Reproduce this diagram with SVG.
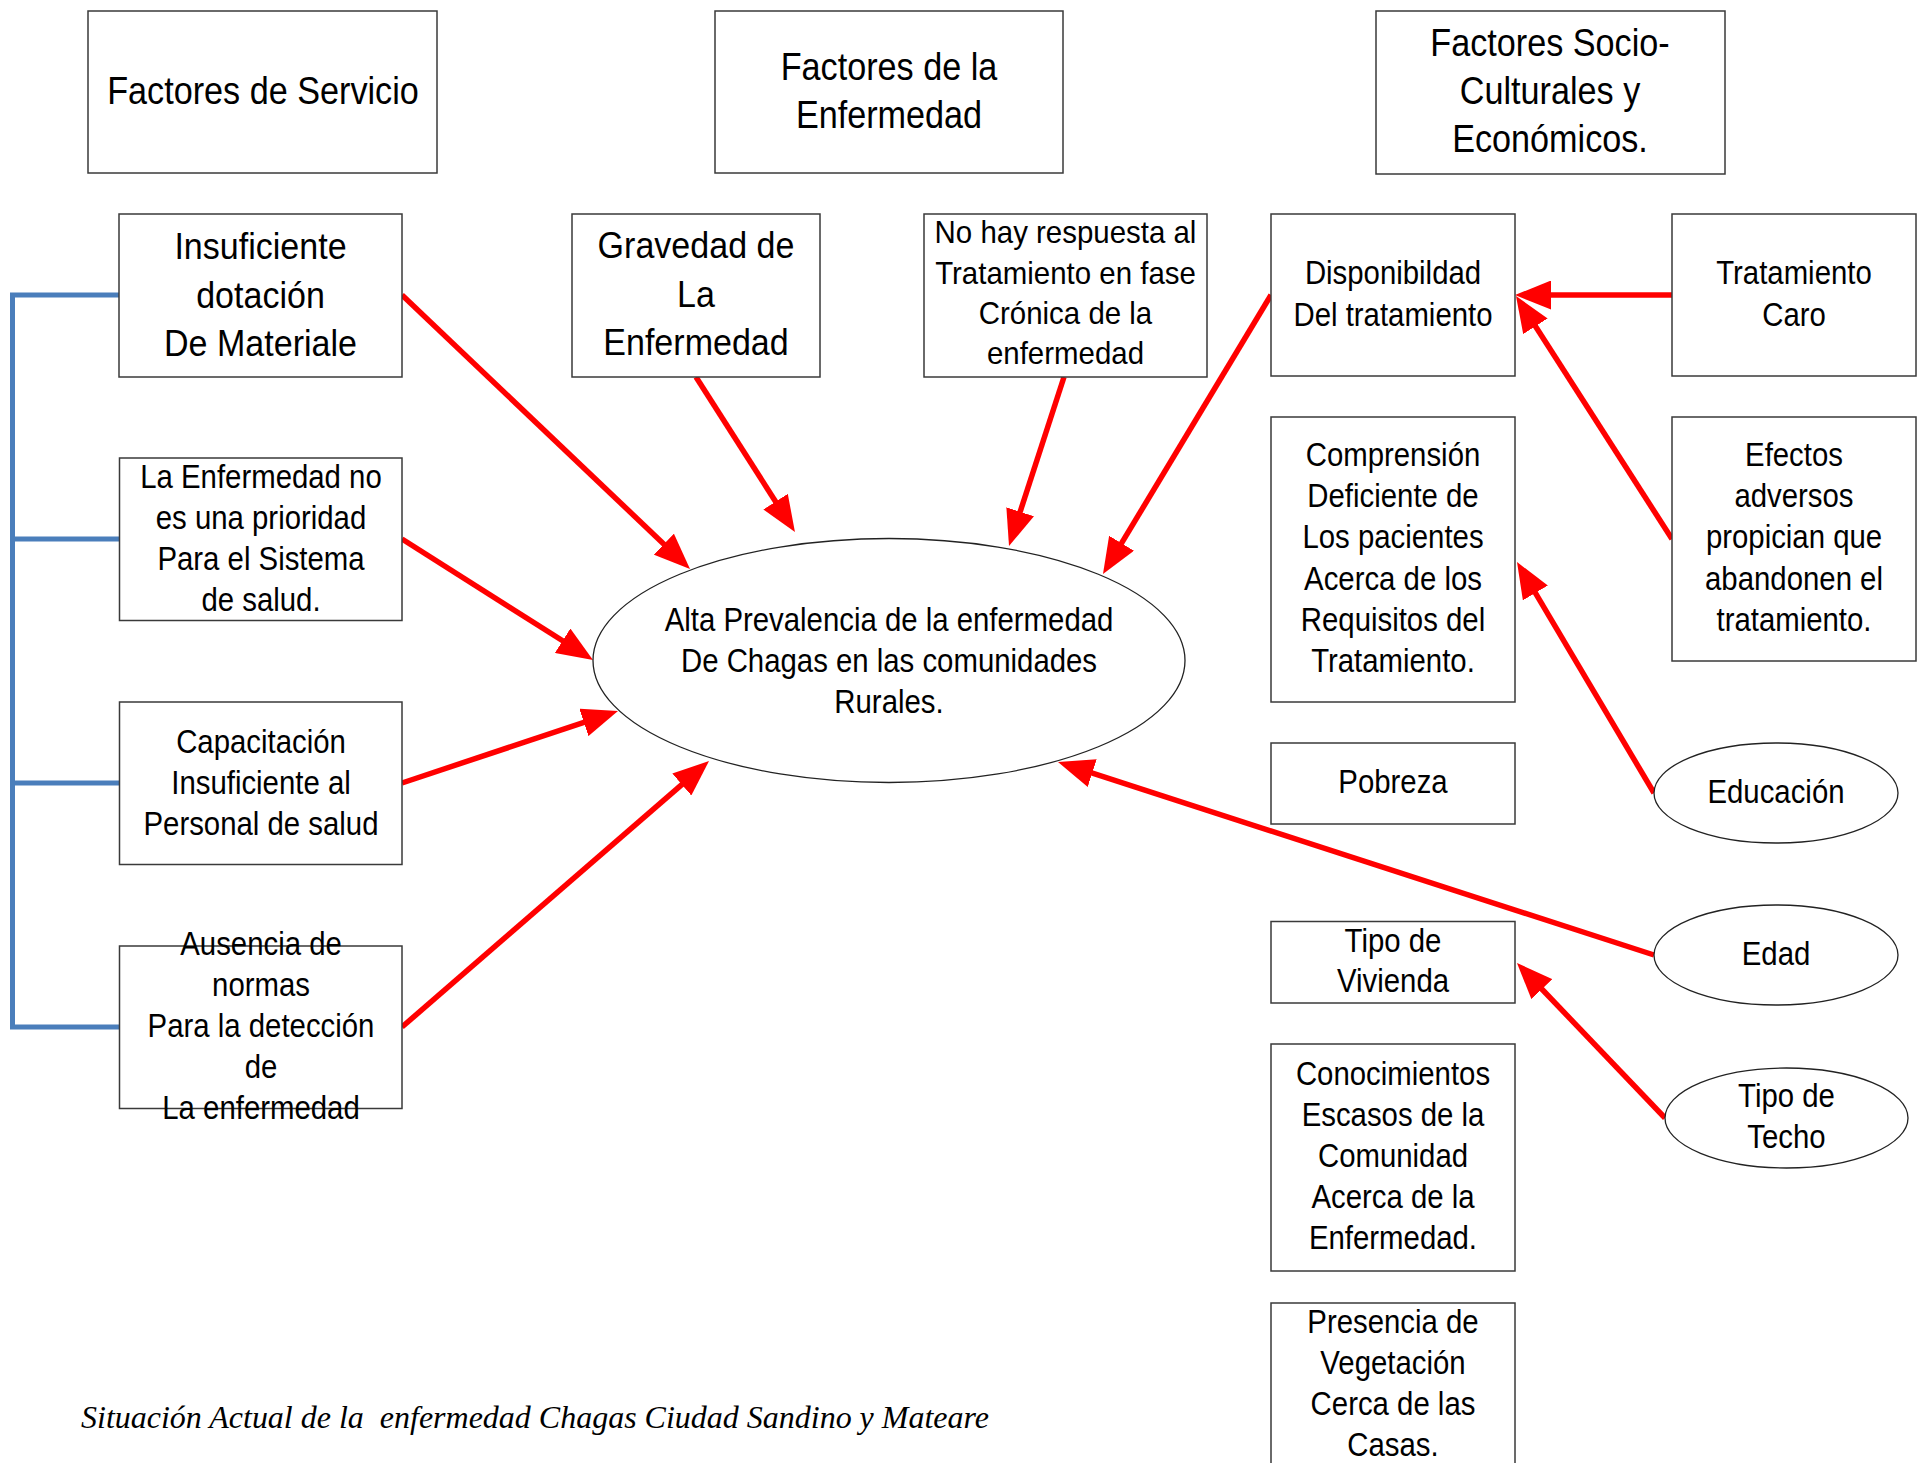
<svg xmlns="http://www.w3.org/2000/svg" width="1924" height="1463" viewBox="0 0 1924 1463">
<style>
.box{fill:#fff;stroke:#3a3a3a;stroke-width:1.5}
.ell{fill:#fff;stroke:#222;stroke-width:1.3}
.t{font-family:"Liberation Sans",Arial,sans-serif;fill:#000;text-anchor:middle}
.big{font-size:38px}
.mid{font-size:37px}
.sm{font-size:33px}
.xs{font-size:31px}
.red{stroke:#ff0000;stroke-width:5.5;fill:none;marker-end:url(#ah)}
.blue{stroke:#4a7ebb;stroke-width:5;fill:none}
.foot{font-family:"Liberation Serif","Times New Roman",serif;font-style:italic;font-size:32px;fill:#000}
</style>
<defs>
<marker id="ah" markerUnits="userSpaceOnUse" markerWidth="36" markerHeight="29" refX="16" refY="14.5" orient="auto">
<path d="M0,0 L36,14.5 L0,29 Z" fill="#ff0000"/>
</marker>
</defs>
<rect width="1924" height="1463" fill="#fff"/>

<g id="connectors">
<path class="blue" d="M119,295 H12.5 V1027 H119 M12.5,539 H119 M12.5,783 H119"/>
<line class="red" x1="402" y1="295" x2="675.5" y2="555.2"/>
<line class="red" x1="402" y1="539" x2="576.1" y2="649.3"/>
<line class="red" x1="402" y1="783" x2="599.0" y2="717.3"/>
<line class="red" x1="402" y1="1027" x2="693.9" y2="774.1"/>
<line class="red" x1="696" y1="377" x2="784.2" y2="515.1"/>
<line class="red" x1="1064" y1="377" x2="1015.2" y2="527.0"/>
<line class="red" x1="1271" y1="295" x2="1113.3" y2="556.9"/>
<line class="red" x1="1672" y1="295" x2="1535" y2="295"/>
<line class="red" x1="1672" y1="539" x2="1526.8" y2="312.8"/>
<line class="red" x1="1654" y1="793" x2="1527.2" y2="579.2"/>
<line class="red" x1="1654" y1="955" x2="1077.0" y2="768.2"/>
<line class="red" x1="1665" y1="1118" x2="1530.8" y2="977.5"/>
</g>

<g id="h1">
<rect class="box" x="88" y="11" width="349" height="162"/>
<g transform="translate(263 0) scale(0.9 1)"><text class="t big" x="0" y="104">Factores de Servicio</text></g>
</g>
<g id="h2">
<rect class="box" x="715" y="11" width="348" height="162"/>
<g transform="translate(889 0) scale(0.9 1)"><text class="t big" x="0" y="80">Factores de la</text><text class="t big" x="0" y="128">Enfermedad</text></g>
</g>
<g id="h3">
<rect class="box" x="1376" y="11" width="349" height="163"/>
<g transform="translate(1550 0) scale(0.9 1)"><text class="t big" x="0" y="56">Factores Socio-</text><text class="t big" x="0" y="104">Culturales y</text><text class="t big" x="0" y="152">Económicos.</text></g>
</g>

<g id="n-insuficiente">
<rect class="box" x="119" y="214" width="283" height="163"/>
<g transform="translate(260.5 0) scale(0.92 1)"><text class="t mid" x="0" y="259">Insuficiente</text><text class="t mid" x="0" y="308">dotación</text><text class="t mid" x="0" y="356">De Materiale</text></g>
</g>
<g id="n-gravedad">
<rect class="box" x="572" y="214" width="248" height="163"/>
<g transform="translate(696 0) scale(0.92 1)"><text class="t mid" x="0" y="258">Gravedad de</text><text class="t mid" x="0" y="307">La</text><text class="t mid" x="0" y="355">Enfermedad</text></g>
</g>
<g id="n-nohay">
<rect class="box" x="924" y="214" width="283" height="163"/>
<g transform="translate(1065.5 0) scale(0.95 1)"><text class="t xs" x="0" y="243">No hay respuesta al</text><text class="t xs" x="0" y="284">Tratamiento en fase</text><text class="t xs" x="0" y="324">Crónica de la</text><text class="t xs" x="0" y="364">enfermedad</text></g>
</g>
<g id="n-disponibilidad">
<rect class="box" x="1271" y="214" width="244" height="162"/>
<g transform="translate(1393 0) scale(0.89 1)"><text class="t sm" x="0" y="284">Disponibildad</text><text class="t sm" x="0" y="326">Del tratamiento</text></g>
</g>
<g id="n-caro">
<rect class="box" x="1672" y="214" width="244" height="162"/>
<g transform="translate(1794 0) scale(0.89 1)"><text class="t sm" x="0" y="284">Tratamiento</text><text class="t sm" x="0" y="326">Caro</text></g>
</g>
<g id="n-comprension">
<rect class="box" x="1271" y="417" width="244" height="285"/>
<g transform="translate(1393 0) scale(0.89 1)"><text class="t sm" x="0" y="466">Comprensión</text><text class="t sm" x="0" y="507.5">Deficiente de</text><text class="t sm" x="0" y="548.5">Los pacientes</text><text class="t sm" x="0" y="590">Acerca de los</text><text class="t sm" x="0" y="631">Requisitos del</text><text class="t sm" x="0" y="672">Tratamiento.</text></g>
</g>
<g id="n-efectos">
<rect class="box" x="1672" y="417" width="244" height="244"/>
<g transform="translate(1794 0) scale(0.89 1)"><text class="t sm" x="0" y="466">Efectos</text><text class="t sm" x="0" y="507.5">adversos</text><text class="t sm" x="0" y="548.5">propician que</text><text class="t sm" x="0" y="590">abandonen el</text><text class="t sm" x="0" y="631">tratamiento.</text></g>
</g>
<g id="n-prioridad">
<rect class="box" x="119.5" y="458" width="282.5" height="162.5"/>
<g transform="translate(261 0) scale(0.89 1)"><text class="t sm" x="0" y="488.5">La Enfermedad no</text><text class="t sm" x="0" y="529.5">es una prioridad</text><text class="t sm" x="0" y="570.5">Para el Sistema</text><text class="t sm" x="0" y="611.5">de salud.</text></g>
</g>
<g id="n-capacitacion">
<rect class="box" x="119.5" y="702" width="282.5" height="162.5"/>
<g transform="translate(261 0) scale(0.89 1)"><text class="t sm" x="0" y="753">Capacitación</text><text class="t sm" x="0" y="794">Insuficiente al</text><text class="t sm" x="0" y="835">Personal de salud</text></g>
</g>
<g id="n-ausencia">
<rect class="box" x="119.5" y="946" width="282.5" height="162.5"/>
<g transform="translate(261 0) scale(0.89 1)"><text class="t sm" x="0" y="955">Ausencia de</text><text class="t sm" x="0" y="996">normas</text><text class="t sm" x="0" y="1037">Para la detección</text><text class="t sm" x="0" y="1078">de</text><text class="t sm" x="0" y="1119">La enfermedad</text></g>
</g>
<g id="n-central">
<ellipse class="ell" cx="889" cy="660.5" rx="296" ry="122"/>
<g transform="translate(889 0) scale(0.89 1)"><text class="t sm" x="0" y="631.5">Alta Prevalencia de la enfermedad</text><text class="t sm" x="0" y="672.5">De Chagas en las comunidades</text><text class="t sm" x="0" y="713.5">Rurales.</text></g>
</g>
<g id="n-pobreza">
<rect class="box" x="1271" y="743" width="244" height="81"/>
<g transform="translate(1393 0) scale(0.89 1)"><text class="t sm" x="0" y="793.5">Pobreza</text></g>
</g>
<g id="n-educacion">
<ellipse class="ell" cx="1776" cy="793" rx="122" ry="50"/>
<g transform="translate(1776 0) scale(0.89 1)"><text class="t sm" x="0" y="803">Educación</text></g>
</g>
<g id="n-vivienda">
<rect class="box" x="1271" y="921.5" width="244" height="81.5"/>
<g transform="translate(1393 0) scale(0.89 1)"><text class="t sm" x="0" y="952">Tipo de</text><text class="t sm" x="0" y="992">Vivienda</text></g>
</g>
<g id="n-edad">
<ellipse class="ell" cx="1776" cy="955" rx="122" ry="50"/>
<g transform="translate(1776 0) scale(0.89 1)"><text class="t sm" x="0" y="965.5">Edad</text></g>
</g>
<g id="n-techo">
<ellipse class="ell" cx="1786.5" cy="1118" rx="121.5" ry="50"/>
<g transform="translate(1786.5 0) scale(0.89 1)"><text class="t sm" x="0" y="1107">Tipo de</text><text class="t sm" x="0" y="1148">Techo</text></g>
</g>
<g id="n-conocimientos">
<rect class="box" x="1271" y="1044" width="244" height="227"/>
<g transform="translate(1393 0) scale(0.89 1)"><text class="t sm" x="0" y="1085.5">Conocimientos</text><text class="t sm" x="0" y="1126.5">Escasos de la</text><text class="t sm" x="0" y="1167.5">Comunidad</text><text class="t sm" x="0" y="1208.5">Acerca de la</text><text class="t sm" x="0" y="1249.5">Enfermedad.</text></g>
</g>
<g id="n-vegetacion">
<rect class="box" x="1271" y="1303" width="244" height="180"/>
<g transform="translate(1393 0) scale(0.89 1)"><text class="t sm" x="0" y="1333.5">Presencia de</text><text class="t sm" x="0" y="1374.5">Vegetación</text><text class="t sm" x="0" y="1415.5">Cerca de las</text><text class="t sm" x="0" y="1456.5">Casas.</text></g>
</g>

<text class="foot" x="81" y="1428" textLength="908" lengthAdjust="spacingAndGlyphs" xml:space="preserve">Situación Actual de la  enfermedad Chagas Ciudad Sandino y Mateare</text>
</svg>
